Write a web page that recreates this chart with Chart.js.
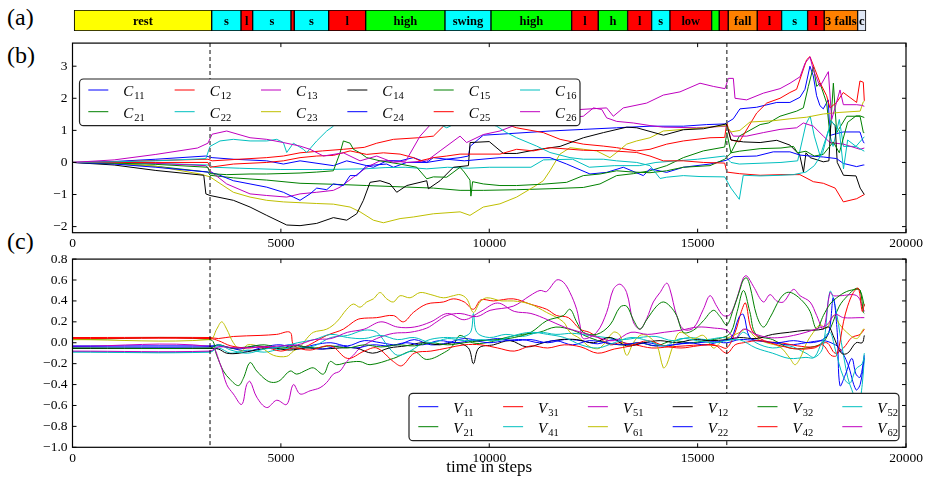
<!DOCTYPE html>
<html><head><meta charset="utf-8">
<script src="https://cdn.jsdelivr.net/npm/chart.js@4.4.1/dist/chart.umd.min.js"></script>
<style>
html,body{margin:0;padding:0;background:#fff;}
body{width:931px;height:478px;overflow:hidden;position:relative;font-family:"Liberation Serif","Times New Roman",serif;}
canvas{position:absolute;left:0;}
.pl{position:absolute;left:7px;font-size:24px;line-height:24px;color:#000;font-family:"Liberation Serif","Times New Roman",serif;}
</style></head><body>
<div class="pl" style="top:5px">(a)</div>
<div class="pl" style="top:43px">(b)</div>
<div class="pl" style="top:229px">(c)</div>
<canvas id="ca" width="931" height="21" style="top:10px"></canvas>
<canvas id="cb" width="931" height="226" style="top:30px"></canvas>
<canvas id="cc" width="931" height="232" style="top:246px"></canvas>
<script>
// ---------- data ----------
const X_TICKS = [0, 5000, 10000, 15000, 20000];
const B_Y_TICKS = [-2, -1, 0, 1, 2, 3];
const C_Y_TICKS = [-1.0, -0.8, -0.6, -0.4, -0.2, 0.0, 0.2, 0.4, 0.6, 0.8];
const BREAKS = [3300, 15700];

// panel (a): phase segments
const SEG_BOUNDS = [40,3340,4043,4323,5242,5321,6147,7035,8937,10041,11977,12615,13320,13896,14335,15336,15518,15734,16430,17015,17639,18037,18839,19038];
const SEG_KIND  = ['rest','s','l','s','l','s','l','high','swing','high','l','h','l','s','low','h','l','fall','l','s','l','3 falls','c'];
const SEG_LABEL = ['rest','s','l','s','','s','l','high','swing','high','l','h','l','s','low','','','fall','l','s','l','3 falls','c'];

// panel (b): C series, [step, value]
const C11 = [[0,0],[1000,0.03],[2000,0.1],[3200,0.2],[3350,0.15],[3860,0.1],[4660,0.05],[5060,-0.05],[5460,0.05],[6260,-0.1],[6580,0.05],[7060,-0.1],[7540,-0.05],[7700,-0.15],[8020,0.0],[8500,0.0],[8660,0.15],[8980,0.1],[9300,0.15],[9500,0.2],[9540,0.5],[9857,0.85],[10257,0.88],[11457,0.98],[12257,1.03],[13057,1.08],[13857,1.13],[14657,1.13],[15217,1.18],[15650,1.2],[15855,1.36],[16015,1.67],[16415,1.72],[16900,1.87],[17215,1.87],[17455,2.03],[17575,2.28],[17695,3.0],[17775,2.7],[17855,2.08],[17935,1.77],[18015,1.67],[18135,1.95],[18175,0.84],[18335,0.9],[18495,0.95],[18895,0.95],[18975,0.64],[19000,0.6]];
const C21 = [[0,0],[1000,-0.03],[2000,-0.12],[3250,-0.3],[3300,-0.4],[3860,-0.48],[4660,-0.55],[5460,-0.65],[6260,-0.68],[7060,-0.72],[7860,-0.76],[8660,-0.8],[9300,-0.87],[9857,-0.87],[10657,-0.85],[11457,-0.82],[12257,-0.78],[12657,-0.67],[13057,-0.41],[13457,-0.35],[13857,-0.26],[14257,-0.1],[14657,0.15],[15137,0.36],[15650,0.48],[15700,0.93],[15800,0.3],[16000,0.82],[16500,1.18],[16700,1.23],[16977,1.44],[17377,1.6],[17537,1.7],[17657,2.37],[17777,2.98],[17857,2.37],[17937,2.47],[18097,1.85],[18177,0.82],[18257,2.47],[18337,0.93],[18577,1.44],[18897,1.44],[18977,0.93],[19000,0.93]];
const C12 = [[0,0],[1000,0.02],[2000,0.06],[3250,0.1],[3350,0.05],[4000,0.1],[4660,0.15],[5060,0.2],[5460,0.3],[6000,0.36],[6500,0.41],[7000,0.47],[7300,0.6],[7700,0.72],[8300,0.77],[8660,0.82],[8900,1.13],[9300,1.28],[9537,1.25],[10000,1.28],[10257,1.25],[10657,1.08],[11297,0.93],[11700,0.72],[12257,0.57],[12737,0.51],[13057,0.46],[13537,0.36],[13857,0.41],[14257,0.57],[14657,0.67],[15297,0.77],[15650,0.78],[15700,1.25],[15800,0.7],[16000,0.64],[16417,1.54],[16657,1.85],[16977,2.0],[17215,2.18],[17375,2.28],[17615,3.2],[17695,3.3],[17815,2.9],[17935,2.49],[18095,2.08],[18175,1.7],[18335,1.87],[18495,2.18],[18815,1.87],[18895,2.54],[18975,2.5],[19000,1.92]];
const C22 = [[0,0],[1000,0.0],[2000,-0.03],[3250,-0.08],[3400,-0.15],[4000,-0.18],[5000,-0.22],[6000,-0.22],[7000,-0.2],[7500,-0.16],[8000,-0.15],[8500,-0.2],[9000,-0.15],[9500,-0.18],[10000,-0.15],[11000,-0.15],[11300,0.08],[12000,0.1],[12400,-0.15],[13000,-0.1],[13600,-0.1],[14000,0.0],[14500,0.05],[15000,0.1],[15650,0.2],[15800,0.0],[16000,-0.05],[17000,0.0],[17400,0.05],[17600,1.2],[17700,1.45],[17800,0.82],[17940,0.2],[18140,1.0],[18250,0.5],[18400,1.34],[18500,0.5],[18800,0.5],[19000,0.8]];
const C13 = [[0,0],[1000,0.0],[2000,-0.03],[3200,-0.1],[3300,-0.26],[3700,-0.67],[4260,-0.98],[4660,-1.03],[5140,-1.08],[5460,-0.98],[5860,-0.93],[6260,-0.87],[6420,-0.77],[6740,-0.46],[7060,-0.15],[7380,0.05],[7700,0.05],[8020,0.0],[8500,0.05],[8820,0.36],[9300,0.82],[9457,0.62],[9857,0.87],[10257,0.98],[10657,1.18],[11140,1.34],[11857,1.39],[12257,1.44],[12500,1.7],[12700,1.65],[12817,1.39],[13057,1.28],[13457,1.23],[13857,1.15],[14177,1.1],[14977,1.08],[15697,1.13],[15857,0.82],[16177,0.82],[16577,0.93],[16977,1.03],[17377,1.08],[17537,1.23],[17777,1.13],[18017,0.82],[18177,0.62],[18497,0.57],[18897,0.41],[19000,0.45]];
const C23 = [[0,0],[1000,-0.02],[2000,-0.12],[3060,-0.36],[3300,-0.45],[3860,-0.93],[4260,-1.08],[4660,-1.18],[5060,-1.23],[5860,-1.28],[6260,-1.3],[6660,-1.39],[6900,-1.54],[7220,-1.8],[7460,-1.88],[7860,-1.75],[8180,-1.7],[8660,-1.6],[9300,-1.54],[9537,-1.65],[9857,-1.39],[10257,-1.29],[10657,-1.08],[11057,-0.77],[11297,-0.57],[11457,-0.26],[11697,0.26],[11937,0.46],[12257,0.41],[12577,0.36],[12897,0.15],[13057,0.31],[13297,0.57],[13537,0.67],[13857,0.77],[14177,0.98],[14657,1.03],[15137,1.08],[15695,1.15],[15800,0.95],[16015,1.0],[16255,1.26],[16815,1.3],[17215,1.36],[17615,1.41],[18015,1.51],[18415,1.56],[18900,1.6],[18975,1.89],[19000,1.9]];
const C14 = [[0,0],[1000,-0.08],[2000,-0.25],[3150,-0.4],[3200,-0.98],[3300,-1.03],[3860,-1.18],[4260,-1.39],[4660,-1.65],[5140,-1.95],[5460,-1.97],[5860,-1.9],[6260,-1.72],[6580,-1.8],[6820,-1.6],[6980,-1.18],[7140,-0.62],[7380,-0.57],[7620,-0.67],[7780,-0.93],[8020,-0.72],[8500,-0.57],[8540,-0.82],[8820,-0.57],[9140,-0.15],[9500,-0.1],[9540,0.62],[10000,0.65],[10340,0.28],[10660,0.28],[11140,0.4],[11700,0.5],[12260,0.77],[12740,0.93],[13300,1.1],[13540,1.08],[14180,0.85],[14660,1.02],[15140,1.05],[15690,1.2],[15800,0.7],[16100,0.64],[16500,0.62],[16900,0.69],[17215,0.54],[17450,0.23],[17540,-0.3],[17600,0.3],[17700,0.15],[18015,0.02],[18150,0.05],[18200,1.3],[18300,1.15],[18350,0.0],[18500,-0.4],[18800,-0.42],[18900,-0.8],[19000,-1.0]];
const C24 = [[0,0],[1000,-0.05],[2000,-0.15],[3250,-0.3],[3460,-0.36],[3860,-0.57],[4260,-0.67],[4660,-0.77],[5060,-0.93],[5300,-1.08],[5460,-1.18],[5700,-0.98],[5860,-0.8],[6100,-0.85],[6260,-0.67],[6500,-0.72],[6660,-0.41],[6820,-0.41],[7060,-0.1],[7220,-0.15],[7540,0.05],[7860,0.05],[8180,0.15],[8500,0.0],[8980,0.1],[9400,0.05],[10257,0.15],[11457,0.15],[11857,-0.05],[12417,-0.36],[12817,-0.31],[13217,-0.15],[13697,-0.41],[13857,-0.2],[14257,-0.31],[14657,-0.15],[15297,-0.05],[15695,0.07],[15855,0.18],[16415,0.2],[16815,0.33],[17215,0.33],[17455,0.23],[17695,0.2],[18015,0.17],[18335,0.12],[18495,-0.03],[18815,-0.13],[18975,-0.08],[19000,-0.08]];
const C15 = [[0,0],[1000,-0.02],[2000,-0.06],[3250,-0.15],[3300,-0.35],[3700,-0.38],[4260,-0.36],[4660,-0.36],[5460,-0.33],[5860,-0.3],[6260,-0.26],[6420,0.3],[6500,0.67],[6660,0.6],[6740,0.41],[6900,0.3],[7060,0.15],[7380,0.05],[7860,-0.05],[8260,-0.15],[8500,-0.51],[8660,-0.45],[8980,-0.46],[9300,-0.15],[9400,-0.3],[9537,-0.55],[9560,-1.05],[9600,-0.6],[9857,-0.67],[10257,-0.72],[10657,-0.72],[11257,-0.68],[11857,-0.62],[12257,-0.41],[12657,-0.36],[13057,-0.26],[13457,-0.3],[13857,-0.32],[14257,-0.26],[14657,-0.15],[15297,-0.1],[15650,0.1],[15800,0.3],[16000,0.35],[16500,0.43],[17000,0.45],[17300,0.5],[17400,0.3],[17600,0.35],[17800,0.2],[18015,0.25],[18255,0.64],[18400,0.3],[18600,1.25],[18800,1.45],[18900,1.45],[19000,1.4]];
const C25 = [[0,0],[1000,0.0],[2000,0.0],[3250,0.0],[3300,-0.15],[3860,-0.05],[4660,0.0],[5060,0.05],[5460,0.15],[5860,0.2],[6260,0.22],[6660,0.36],[7060,0.25],[7460,0.3],[7860,0.26],[8180,0.15],[8340,0.05],[8660,0.15],[8980,0.2],[9300,0.26],[9537,0.26],[10257,0.26],[10657,0.41],[11057,0.36],[11457,0.46],[12257,0.38],[12977,0.36],[13537,0.31],[13857,0.2],[14177,0.05],[14657,0.05],[15137,0.0],[15650,-0.02],[15700,-0.3],[16000,-0.35],[16500,-0.4],[17000,-0.38],[17455,-0.38],[17777,-0.6],[18017,-0.65],[18300,-0.8],[18497,-1.23],[18817,-1.13],[19000,-1.0]];
const C16 = [[0,0],[1000,0.02],[2000,0.05],[3200,0.12],[3300,0.5],[3540,0.67],[3860,0.72],[4260,0.67],[4660,0.67],[4900,0.72],[5060,0.62],[5140,0.31],[5300,0.6],[5540,0.41],[5620,0.31],[5860,0.67],[6100,0.98],[6260,1.13],[6420,1.44],[6580,1.9],[6740,1.85],[6900,1.7],[7060,1.8],[7220,1.6],[7540,1.5],[7860,1.44],[8180,1.5],[8340,1.18],[8660,1.28],[8980,1.08],[9300,1.28],[9537,1.34],[9857,1.28],[10177,1.13],[10417,0.93],[10657,0.77],[11137,0.51],[11457,0.31],[11937,0.15],[12257,0.1],[12737,0.1],[13057,0.05],[13537,0.0],[13857,-0.1],[14100,-0.5],[14257,-0.46],[14657,-0.41],[15057,-0.44],[15650,-0.45],[15800,-0.8],[16000,-1.15],[16095,-0.4],[16500,-0.42],[17000,-0.4],[17300,-0.38],[17600,-0.3],[17800,-0.1],[18000,0.3],[18200,1.3],[18400,1.0],[18500,-0.2],[18600,0.7],[18800,0.5],[19000,0.35]];
const C26 = [[0,0],[1000,0.08],[2000,0.25],[3000,0.45],[3250,0.6],[3350,0.88],[3700,0.98],[4260,0.77],[4660,0.72],[5060,0.62],[5460,0.51],[5700,0.41],[6020,0.2],[6500,0.3],[6900,0.05],[7300,0.2],[7700,0.0],[8000,0.05],[8340,0.82],[8660,1.28],[9300,1.33],[9777,1.44],[10577,1.54],[11377,1.75],[11857,1.8],[12177,1.65],[12817,1.7],[12977,1.44],[13217,1.7],[13777,1.85],[14177,2.1],[14577,2.2],[15057,2.47],[15377,2.37],[15657,2.3],[15737,2.62],[15857,2.62],[15897,2.0],[16177,1.95],[16577,2.16],[16977,2.3],[17217,2.47],[17457,2.67],[17577,3.09],[17697,3.29],[17777,2.88],[17937,2.37],[18137,2.83],[18217,1.34],[18417,2.26],[18497,1.8],[18817,1.8],[18937,1.78],[19000,1.75]];

// panel (c): V series, [step, value]
const V11 = [[0,-0.03],[3300,-0.03],[3500,-0.03],[3800,-0.05],[4200,-0.08],[4600,-0.04],[5000,-0.02],[5400,-0.06],[5800,-0.02],[6200,0.0],[6600,-0.03],[7000,0.02],[7400,0.0],[7800,-0.02],[8200,0.03],[8600,-0.02],[9000,0.0],[9400,0.04],[9800,0.02],[10200,0.04],[10600,0.02],[11000,0.03],[11400,0.0],[11800,0.03],[12200,0.02],[12600,-0.01],[13000,0.03],[13400,-0.02],[13800,0.0],[14200,-0.03],[14600,-0.01],[15000,0.0],[15400,0.01],[15700,0.0],[16000,0.03],[16400,0.02],[16800,0.0],[17200,-0.02],[17600,0.0],[18000,0.02],[18200,0.0],[18400,-0.05],[18600,-0.2],[18800,-0.45],[18900,-0.4],[19000,-0.15]];
const V21 = [[0,0.03],[3300,0.03],[3460,-0.12],[3620,-0.27],[3780,-0.35],[3980,-0.41],[4100,-0.34],[4260,-0.19],[4420,-0.27],[4660,-0.36],[4820,-0.38],[4980,-0.36],[5220,-0.27],[5380,-0.3],[5620,-0.26],[5780,-0.24],[6020,-0.3],[6180,-0.18],[6340,-0.21],[6580,-0.19],[6900,-0.18],[7140,-0.21],[7700,-0.15],[8180,-0.08],[8500,-0.16],[8980,-0.08],[9140,-0.02],[9300,0.07],[9600,0.0],[9940,0.0],[10400,0.05],[10800,0.08],[11200,0.1],[11600,0.15],[12000,0.12],[12400,0.05],[12800,0.0],[13200,-0.02],[13600,0.0],[14000,-0.03],[14400,0.02],[14800,0.0],[15200,0.02],[15600,0.05],[15800,0.1],[15950,0.3],[16100,0.5],[16250,0.3],[16400,0.08],[16800,0.03],[17200,-0.05],[17600,-0.05],[18000,0.0],[18200,0.15],[18400,0.35],[18600,0.45],[18800,0.52],[18900,0.5],[19000,0.35]];
const V31 = [[0,0.05],[3300,0.05],[3500,0.04],[3860,0.06],[4500,0.07],[4900,0.08],[5220,0.1],[5300,-0.02],[5500,-0.05],[6100,0.07],[6500,0.13],[6740,0.2],[6900,0.23],[7300,0.24],[7700,0.26],[7940,0.2],[8180,0.29],[8500,0.37],[8900,0.39],[9140,0.42],[9400,0.39],[9620,0.32],[9800,0.41],[10100,0.4],[10577,0.42],[10977,0.37],[11377,0.32],[11617,0.26],[11900,0.24],[12177,0.13],[12400,0.1],[12657,0.04],[12900,-0.02],[13137,0.0],[13500,-0.02],[13900,-0.05],[14300,-0.04],[14700,-0.03],[15100,-0.02],[15500,-0.03],[15700,-0.05],[15900,0.1],[16050,0.3],[16150,0.38],[16300,0.12],[16600,0.02],[17000,0.0],[17400,-0.03],[17800,-0.04],[18100,0.0],[18300,-0.1],[18500,-0.05],[18700,0.05],[18900,0.08],[19000,0.13]];
const V41 = [[0,-0.09],[3300,-0.09],[3500,-0.05],[3800,-0.1],[4200,-0.07],[4600,-0.09],[5000,-0.06],[5400,-0.05],[5800,-0.03],[6200,0.05],[6600,0.07],[7000,0.12],[7300,0.1],[7600,-0.05],[7800,-0.12],[8100,-0.08],[8500,0.02],[8900,0.05],[9300,0.05],[9550,0.1],[9620,0.28],[9700,0.1],[10000,0.05],[10400,0.08],[10800,0.06],[11200,0.1],[11600,0.08],[12000,0.09],[12400,0.07],[12800,0.05],[13200,0.03],[13600,0.05],[14000,0.06],[14400,0.02],[14800,0.05],[15200,0.03],[15600,0.05],[15900,0.03],[16100,0.1],[16400,0.0],[16800,-0.05],[17200,-0.03],[17600,-0.1],[17800,-0.14],[18000,-0.05],[18175,0.49],[18300,0.35],[18450,0.0],[18600,-0.33],[18700,-0.45],[18855,-0.6],[18950,-0.4],[19000,-0.14]];
const V51 = [[0,-0.035],[3300,-0.035],[3540,-0.2],[3700,-0.4],[3860,-0.49],[4060,-0.59],[4180,-0.4],[4260,-0.37],[4420,-0.52],[4660,-0.62],[4900,-0.55],[5140,-0.59],[5300,-0.4],[5460,-0.49],[5700,-0.46],[5940,-0.43],[6100,-0.38],[6260,-0.3],[6420,-0.27],[6580,-0.18],[6740,-0.12],[6900,-0.05],[7300,0.04],[7700,0.09],[8100,0.1],[8500,0.14],[8740,0.2],[8980,0.26],[9300,0.28],[9700,0.25],[10020,0.31],[10577,0.35],[10977,0.45],[11217,0.5],[11377,0.49],[11617,0.6],[11777,0.58],[11937,0.48],[12097,0.32],[12177,0.17],[12257,0.04],[12577,0.1],[12817,0.29],[12977,0.51],[13137,0.56],[13297,0.48],[13457,0.2],[13617,0.13],[13777,0.23],[13937,0.39],[14097,0.48],[14257,0.57],[14337,0.51],[14497,0.26],[14657,0.13],[14897,0.14],[15137,0.32],[15297,0.45],[15457,0.35],[15617,0.26],[15777,0.27],[15937,0.42],[16097,0.62],[16177,0.64],[16337,0.54],[16577,0.39],[16737,0.46],[16897,0.4],[17057,0.39],[17297,0.51],[17457,0.45],[17697,0.39],[17857,0.26],[18017,0.13],[18177,0.48],[18257,0.45],[18417,0.45],[18817,0.45],[18977,0.32],[19000,0.3]];
const V61 = [[0,0.03],[3300,0.03],[3460,0.13],[3580,0.2],[3700,0.13],[3860,0.0],[4060,-0.08],[4200,-0.02],[4500,-0.04],[4820,-0.12],[5140,-0.13],[5300,-0.08],[5460,-0.04],[5620,0.04],[5780,0.1],[6100,0.13],[6340,0.2],[6580,0.32],[6740,0.37],[6900,0.34],[7060,0.39],[7220,0.42],[7380,0.48],[7540,0.42],[7700,0.39],[7860,0.45],[8100,0.43],[8340,0.48],[8600,0.46],[8900,0.43],[9140,0.45],[9300,0.46],[9460,0.42],[9620,0.29],[9780,0.39],[9940,0.43],[10300,0.4],[10577,0.4],[10977,0.37],[11377,0.29],[11777,0.2],[11937,0.1],[12177,0.04],[12417,-0.04],[12657,-0.05],[12977,0.1],[13137,0.07],[13297,-0.12],[13457,0.0],[13617,0.07],[13777,0.07],[14017,-0.02],[14177,-0.24],[14257,-0.21],[14417,-0.02],[14577,0.1],[14897,0.04],[15137,0.07],[15377,-0.05],[15537,0.0],[15697,0.04],[16017,0.1],[16177,0.13],[16417,0.04],[16657,0.0],[16977,-0.04],[17217,-0.15],[17337,-0.21],[17457,-0.15],[17617,0.0],[17777,0.1],[17937,0.17],[18097,0.14],[18257,0.26],[18417,0.17],[18577,0.1],[18817,0.04],[18977,0.13],[19000,0.13]];
const V12 = [[0,-0.055],[3300,-0.055],[3500,-0.06],[3700,-0.1],[4000,-0.1],[4400,-0.07],[4800,-0.05],[5200,-0.07],[5600,-0.05],[6000,-0.06],[6400,-0.05],[6800,-0.05],[7200,-0.1],[7600,-0.05],[8000,-0.03],[8400,0.0],[8800,-0.02],[9200,0.0],[9500,-0.05],[9620,-0.2],[9750,-0.05],[10100,-0.02],[10500,0.02],[10900,-0.04],[11300,0.0],[11700,0.03],[12100,0.03],[12500,0.0],[12900,0.05],[13300,-0.03],[13700,0.0],[14100,0.02],[14500,0.0],[14900,0.03],[15300,0.02],[15700,0.03],[16000,0.05],[16400,0.04],[16800,0.08],[17200,0.1],[17600,0.12],[17800,0.12],[18000,0.13],[18150,0.15],[18250,0.07],[18450,-0.1],[18600,-0.1],[18800,0.0],[18950,0.0],[19000,0.07]];
const V22 = [[0,-0.04],[3300,-0.04],[3500,-0.02],[3700,-0.04],[4000,-0.06],[4400,-0.03],[4800,-0.05],[5200,-0.02],[5600,-0.04],[6000,-0.06],[6400,-0.03],[6800,-0.05],[7200,-0.02],[7600,-0.03],[8000,0.0],[8400,-0.02],[8800,0.02],[9200,0.0],[9600,0.02],[10000,0.0],[10400,0.02],[10800,0.03],[11200,0.0],[11600,0.02],[12000,-0.02],[12400,0.02],[12800,0.0],[13200,-0.02],[13600,0.0],[14000,-0.03],[14400,-0.02],[14800,0.0],[15200,-0.02],[15600,0.02],[15800,0.04],[16000,0.25],[16100,0.27],[16250,0.05],[16500,0.02],[16900,0.0],[17300,0.02],[17700,0.0],[18000,0.03],[18150,0.1],[18255,0.43],[18350,0.1],[18415,-0.41],[18550,-0.3],[18700,-0.15],[18800,-0.3],[18900,-0.33],[19000,-0.12]];
const V32 = [[0,-0.05],[3300,-0.05],[3500,-0.02],[3800,-0.05],[4200,-0.04],[4600,-0.02],[5000,-0.05],[5400,-0.03],[5800,-0.05],[6200,-0.03],[6600,-0.05],[7000,-0.02],[7400,-0.04],[7800,-0.02],[8200,-0.03],[8600,0.0],[9000,-0.02],[9400,0.0],[9800,0.02],[10200,0.03],[10600,0.05],[11000,0.1],[11377,0.21],[11777,0.26],[11937,0.32],[12097,0.2],[12257,0.1],[12577,0.08],[12897,0.17],[13137,0.34],[13297,0.35],[13457,0.22],[13617,0.13],[13777,0.22],[14017,0.35],[14177,0.39],[14337,0.35],[14497,0.26],[14657,0.1],[14900,0.12],[15137,0.21],[15377,0.31],[15537,0.25],[15697,0.17],[15857,0.32],[16017,0.51],[16097,0.6],[16177,0.62],[16257,0.54],[16417,0.26],[16577,0.15],[16737,0.24],[16977,0.42],[17137,0.48],[17297,0.47],[17537,0.39],[17697,0.3],[17857,0.13],[18017,0.26],[18177,0.37],[18337,0.43],[18577,0.49],[18817,0.51],[18900,0.5],[18977,0.29],[19000,0.28]];
const V42 = [[0,0.04],[3300,0.04],[3500,0.02],[3800,-0.03],[4200,-0.05],[4600,-0.04],[5000,-0.08],[5300,-0.05],[5700,-0.07],[6200,-0.03],[6600,-0.15],[7000,-0.08],[7300,-0.05],[7700,-0.18],[7900,-0.22],[8200,-0.1],[8600,-0.08],[9000,-0.05],[9400,-0.02],[9800,-0.02],[10200,-0.05],[10600,-0.08],[11000,-0.03],[11400,-0.05],[11800,-0.02],[12200,-0.04],[12600,-0.1],[13000,-0.06],[13400,-0.03],[13800,0.02],[14200,-0.03],[14600,-0.05],[15000,-0.03],[15400,-0.02],[15700,-0.1],[15900,-0.02],[16100,0.0],[16500,0.02],[17000,-0.03],[17400,-0.06],[17800,-0.05],[18000,-0.02],[18200,-0.12],[18337,-0.12],[18500,0.2],[18600,0.35],[18737,0.48],[18857,0.52],[18950,0.3],[19000,0.37]];
const V52 = [[0,-0.085],[3300,-0.085],[3500,-0.02],[3800,-0.07],[4200,-0.1],[4600,-0.06],[5000,-0.04],[5400,0.0],[5800,0.03],[6200,0.08],[6600,0.05],[7000,0.04],[7400,0.07],[7800,0.03],[8200,0.05],[8600,0.0],[9000,0.04],[9400,0.02],[9800,0.03],[10200,0.02],[10600,0.07],[11000,0.1],[11400,0.08],[11800,0.05],[12200,-0.02],[12600,-0.05],[13000,0.0],[13400,0.05],[13800,0.02],[14200,-0.03],[14600,0.04],[15000,0.02],[15400,0.0],[15700,0.02],[16000,0.03],[16400,-0.05],[16800,-0.1],[17200,-0.15],[17600,-0.14],[17800,-0.14],[18000,0.02],[18175,0.1],[18300,-0.06],[18500,-0.33],[18650,-0.39],[18800,-0.25],[18950,-0.2],[19000,-0.1]];
const V62 = [[0,-0.08],[3300,-0.08],[3500,-0.04],[4000,-0.05],[4600,-0.04],[5000,-0.03],[5400,-0.02],[5800,0.03],[6200,0.04],[6600,0.1],[7000,0.13],[7400,0.2],[7800,0.15],[8200,0.15],[8600,0.2],[9000,0.28],[9400,0.22],[9800,0.3],[10200,0.38],[10600,0.3],[11000,0.28],[11400,0.22],[11800,0.15],[12200,0.1],[12600,0.05],[13000,0.02],[13400,0.1],[13800,0.08],[14200,0.1],[14600,0.12],[15000,0.15],[15400,0.14],[15700,0.12],[15900,0.04],[16100,0.13],[16400,0.08],[16700,0.05],[17000,0.05],[17300,0.07],[17600,0.1],[17900,0.14],[18100,0.17],[18300,0.27],[18500,0.24],[18900,0.24],[19000,0.24]];

const B_NAMES = ['C11','C21','C12','C22','C13','C23','C14','C24','C15','C25','C16','C26'];
const B_DATA  = [C11,C21,C12,C22,C13,C23,C14,C24,C15,C25,C16,C26];
const C_NAMES = ['V11','V21','V31','V41','V51','V61','V12','V22','V32','V42','V52','V62'];
const C_DATA  = [V11,V21,V31,V41,V51,V61,V12,V22,V32,V42,V52,V62];

// ---------- styles ----------
const CYCLE = ['#0000ff','#008000','#ff0000','#00bfbf','#bf00bf','#bfbf00','#000000','#0000ff','#008000','#ff0000','#00bfbf','#bf00bf'];
const KIND_COLOR = {'rest':'#ffff00','s':'#00ffff','swing':'#00ffff','l':'#ff0000','low':'#ff0000','high':'#00ff00','h':'#00ff00','fall':'#ff8000','3 falls':'#ff8000','c':'#dfe7f5'};
const SERIF = '"Liberation Serif", "Times New Roman", serif';
const PLOT_LEFT = 72.5, PLOT_RIGHT_PAD = 25;

Chart.defaults.font.family = SERIF;
Chart.defaults.color = '#000';

const uminus = s => s.replace('-', '\u2212');

// ---------- decoration plugin (frame, inward ticks, break lines, legend) ----------
const decor = {
  id: 'decor',
  afterDatasetsDraw(chart, args, o) {
    if (!o || !o.on) return;
    const ctx = chart.ctx, a = chart.chartArea, xs = chart.scales.x, ys = chart.scales.y;
    ctx.save();
    ctx.strokeStyle = o.dashColor; ctx.lineWidth = o.dashWidth; ctx.setLineDash(o.dash);
    BREAKS.forEach(v => {
      const px = xs.getPixelForValue(v);
      ctx.beginPath(); ctx.moveTo(px, a.top); ctx.lineTo(px, a.bottom); ctx.stroke();
    });
    ctx.setLineDash([]);
    ctx.strokeStyle = '#000'; ctx.lineWidth = 1.2;
    ctx.strokeRect(a.left, a.top, a.right - a.left, a.bottom - a.top);
    ctx.lineWidth = 1;
    const tl = 4;
    X_TICKS.forEach(v => {
      const px = xs.getPixelForValue(v);
      ctx.beginPath();
      ctx.moveTo(px, a.bottom); ctx.lineTo(px, a.bottom - tl);
      ctx.moveTo(px, a.top); ctx.lineTo(px, a.top + tl);
      ctx.stroke();
    });
    o.yTicks.forEach(v => {
      const py = ys.getPixelForValue(v);
      ctx.beginPath();
      ctx.moveTo(a.left, py); ctx.lineTo(a.left + tl, py);
      ctx.moveTo(a.right, py); ctx.lineTo(a.right - tl, py);
      ctx.stroke();
    });
    const L = o.legend;
    ctx.fillStyle = '#fff'; ctx.strokeStyle = '#222'; ctx.lineWidth = 1.2;
    ctx.beginPath();
    if (ctx.roundRect) ctx.roundRect(L.x, L.y, L.w, L.h, 4); else ctx.rect(L.x, L.y, L.w, L.h);
    ctx.fill(); ctx.stroke();
    chart.data.datasets.forEach((ds, i) => {
      const col = Math.floor(i / 2), row = i % 2;
      const x = L.x0 + col * L.dx, y = L.rows[row];
      ctx.strokeStyle = ds.borderColor; ctx.lineWidth = 1;
      ctx.beginPath(); ctx.moveTo(x, y); ctx.lineTo(x + 20, y); ctx.stroke();
      ctx.fillStyle = '#000';
      ctx.textBaseline = 'alphabetic'; ctx.textAlign = 'left';
      ctx.font = 'italic 15px ' + SERIF;
      const letter = ds.label[0];
      ctx.fillText(letter, x + 35, y + 6);
      const w = ctx.measureText(letter).width;
      ctx.font = '10.5px ' + SERIF;
      ctx.fillText(ds.label.slice(1), x + 35 + w + 1, y + 9);
    });
    ctx.restore();
  }
};

function lineChart(id, names, data, yMin, yMax, yTicks, yFmt, padTop, xAxisH, deco, tension) {
  return new Chart(document.getElementById(id), {
    type: 'line',
    data: {
      datasets: names.map((n, i) => ({
        label: n,
        data: data[i].map(p => ({x: p[0], y: p[1]})),
        borderColor: CYCLE[i], backgroundColor: CYCLE[i],
        borderWidth: 1, pointRadius: 0, tension: tension, fill: false,
        order: -i
      }))
    },
    options: {
      responsive: false, animation: false, devicePixelRatio: 1, events: [],
      layout: {padding: {top: padTop, right: PLOT_RIGHT_PAD, left: 0, bottom: 0}},
      plugins: {legend: {display: false}, tooltip: {enabled: false}, decor: deco},
      scales: {
        x: {
          type: 'linear', min: 0, max: 20000,
          afterBuildTicks: s => { s.ticks = X_TICKS.map(v => ({value: v})); },
          afterFit: s => { s.height = xAxisH; },
          grid: {display: false, drawTicks: false}, border: {display: false},
          ticks: {font: {size: 13.5, family: SERIF}, color: '#000', padding: 3, maxRotation: 0, autoSkip: false,
                  callback: v => String(v)},
          title: deco.xTitle ? {display: true, text: deco.xTitle, font: {size: 17, family: SERIF}, color: '#000', padding: {top: 0, bottom: 0}} : {display: false}
        },
        y: {
          type: 'linear', min: yMin, max: yMax,
          afterBuildTicks: s => { s.ticks = yTicks.map(v => ({value: v})); },
          afterFit: s => { s.width = PLOT_LEFT; },
          grid: {display: false, drawTicks: false}, border: {display: false},
          ticks: {font: {size: 13.5, family: SERIF}, color: '#000', padding: 5, autoSkip: false, callback: yFmt}
        }
      }
    },
    plugins: [decor]
  });
}

// panel (b)
lineChart('cb', B_NAMES, B_DATA, -2.19, 3.72, B_Y_TICKS, v => uminus(String(v)), 11, 23.3, {
  on: true, yTicks: B_Y_TICKS, dashColor: '#666', dashWidth: 1.6, dash: [4, 3],
  legend: {x: 79.5, y: 49, w: 500.5, h: 46.7, x0: 88.3, dx: 86.35, rows: [60, 81.7]}
}, 0);

// panel (c)
lineChart('cc', C_NAMES, C_DATA, -1.0, 0.8, C_Y_TICKS, v => uminus(v.toFixed(1)), 10, 30.7, {
  on: true, yTicks: C_Y_TICKS, dashColor: '#000', dashWidth: 1, dash: [4, 3], xTitle: 'time in steps',
  legend: {x: 409, y: 393.3 - 246, w: 490, h: 47.4, x0: 418.3, dx: 84.8, rows: [406.7 - 246, 426.7 - 246]}
}, 0.35);

// panel (a)
const segLabelPlugin = {
  id: 'segLabels',
  afterDatasetsDraw(chart) {
    const ctx = chart.ctx;
    ctx.save();
    ctx.font = 'bold 12.5px ' + SERIF; ctx.fillStyle = '#000';
    ctx.textAlign = 'center'; ctx.textBaseline = 'middle';
    chart.data.datasets.forEach((ds, i) => {
      const el = chart.getDatasetMeta(i).data[0];
      if (!el || !SEG_LABEL[i]) return;
      ctx.fillText(SEG_LABEL[i], (el.x + el.base) / 2, el.y + 1);
    });
    ctx.restore();
  }
};
new Chart(document.getElementById('ca'), {
  type: 'bar',
  data: {
    labels: ['phase'],
    datasets: SEG_KIND.map((k, i) => ({
      label: SEG_LABEL[i],
      data: [[SEG_BOUNDS[i], SEG_BOUNDS[i + 1]]],
      backgroundColor: KIND_COLOR[k], borderColor: '#000', borderWidth: 1, borderSkipped: false,
      grouped: false, barPercentage: 1, categoryPercentage: 1
    }))
  },
  options: {
    indexAxis: 'y', responsive: false, animation: false, devicePixelRatio: 1, events: [],
    layout: {padding: {left: PLOT_LEFT, right: PLOT_RIGHT_PAD, top: 0, bottom: 0}},
    plugins: {legend: {display: false}, tooltip: {enabled: false}},
    scales: {x: {type: 'linear', min: 0, max: 20000, display: false}, y: {display: false}}
  },
  plugins: [segLabelPlugin]
});
</script>
</body></html>
